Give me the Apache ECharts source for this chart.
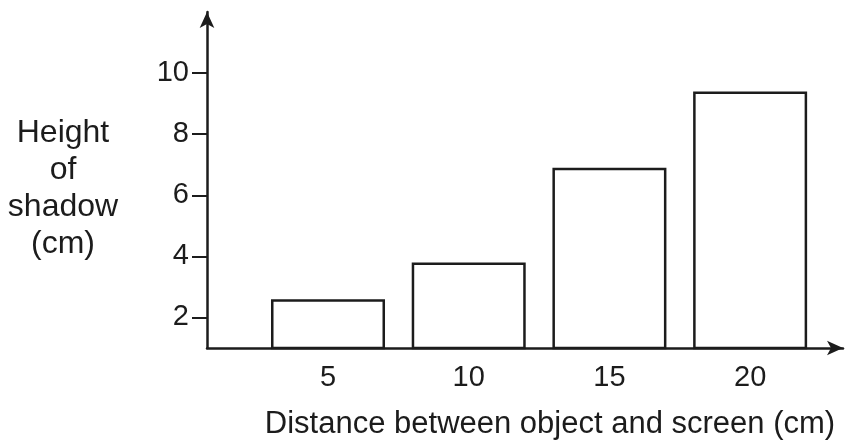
<!DOCTYPE html>
<html>
<head>
<meta charset="utf-8">
<script src="https://cdn.jsdelivr.net/npm/echarts@6/dist/echarts.min.js"></script>
<style>
  html, body { margin: 0; padding: 0; background: #fff; }
  #chart { width: 846px; height: 443px; }
</style>
</head>
<body>
<div id="chart"></div>
<script>
// distance between object and screen (cm)
const distances = [5, 10, 15, 20];
// height of shadow (cm)
const heights = [2.6, 3.8, 6.9, 9.4];
const yTicks = [2, 4, 6, 8, 10];

const ink = "#1c1c1c";
const font = "Liberation Sans, Arial, sans-serif";

const chart = echarts.init(document.getElementById("chart"));
chart.setOption({
  backgroundColor: "#fff",
  animation: false,
  grid: { left: 207, right: 3, top: 12, bottom: 95, outerBoundsMode: "none" },
  xAxis: {
    type: "value",
    min: 0.7,
    max: 23.3,
    name: "Distance between object and screen (cm)",
    nameLocation: "middle",
    nameGap: 61,
    nameTextStyle: { color: ink, fontSize: 31, fontFamily: font, padding: [0, 0, 0, 50] },
    axisLine: {
      show: true,
      symbol: ["none", "arrow"],
      symbolSize: [11, 16],
      lineStyle: { color: ink, width: 2.5 }
    },
    axisTick: { show: false },
    splitLine: { show: false },
    axisLabel: {
      customValues: distances,
      color: ink,
      fontSize: 29,
      fontFamily: font,
      margin: 15
    }
  },
  yAxis: {
    type: "value",
    min: 1,
    max: 12,
    // small spacer line on top pushes the block down a little
    name: "{gap| }\nHeight\nof\nshadow\n(cm)",
    nameLocation: "middle",
    nameRotate: 0,
    nameGap: 144,
    nameTextStyle: {
      color: ink,
      fontSize: 32,
      fontFamily: font,
      align: "center",
      lineHeight: 37,
      rich: { gap: { fontSize: 10, lineHeight: 18 } }
    },
    axisLine: {
      show: true,
      symbol: ["none", "arrow"],
      symbolSize: [11, 16],
      lineStyle: { color: ink, width: 2.5 }
    },
    axisTick: {
      show: true,
      customValues: yTicks,
      length: 15,
      lineStyle: { color: ink, width: 2 }
    },
    splitLine: { show: false },
    axisLabel: {
      customValues: yTicks,
      color: ink,
      fontSize: 29,
      fontFamily: font,
      margin: 18
    }
  },
  series: [
    {
      type: "bar",
      barWidth: 114,
      data: distances.map((d, i) => [d, heights[i]]),
      itemStyle: { color: "#fff", borderColor: ink, borderWidth: 2.5 }
    }
  ]
});
</script>
</body>
</html>
